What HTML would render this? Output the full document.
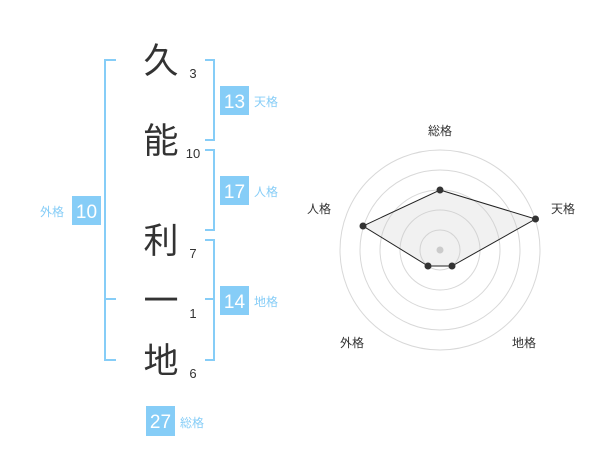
<!DOCTYPE html>
<html><head><meta charset="utf-8"><style>
body{margin:0;width:600px;height:470px;background:#fff;overflow:hidden;font-family:"Liberation Sans","Noto Sans CJK JP",sans-serif}
</style></head><body>
<svg width="600" height="470" xmlns="http://www.w3.org/2000/svg" font-family="Liberation Sans, Noto Sans CJK JP, sans-serif">
<g stroke="#86cdf7" stroke-width="2" fill="none">
<path d="M116,60H105V360H116M105,299H116"/>
<path d="M205,60H214V140H205"/>
<path d="M205,150H214V230H205"/>
<path d="M205,240H214V360H205M205,299H214"/>
</g>
<g font-size="35" fill="#333" text-anchor="middle" font-family="Noto Sans CJK JP, sans-serif">
<text x="161" y="73">久</text>
<text x="161" y="153">能</text>
<text x="161" y="253">利</text>
<text x="161" y="313">一</text>
<text x="161" y="373">地</text>
</g>
<g font-size="13" fill="#333" text-anchor="middle">
<text x="193" y="78">3</text>
<text x="193" y="158">10</text>
<text x="193" y="258">7</text>
<text x="193" y="318">1</text>
<text x="193" y="378">6</text>
</g>
<g fill="#86cdf7">
<rect x="220" y="86" width="29" height="29"/>
<rect x="220" y="176" width="29" height="29"/>
<rect x="220" y="286" width="29" height="29"/>
<rect x="72" y="196" width="29" height="29"/>
<rect x="146" y="406" width="29" height="30"/>
</g>
<g font-size="19" fill="#fff" text-anchor="middle">
<text x="234.5" y="108">13</text>
<text x="234.5" y="198">17</text>
<text x="234.5" y="308">14</text>
<text x="86.5" y="218">10</text>
<text x="160.5" y="428">27</text>
</g>
<g font-size="12" fill="#86cdf7">
<text x="254" y="106">天格</text>
<text x="254" y="196">人格</text>
<text x="254" y="306">地格</text>
<text x="40" y="216">外格</text>
<text x="180" y="427">総格</text>
</g>
<g fill="none" stroke="#d8d8d8" stroke-width="1">
<circle cx="440" cy="250" r="20"/><circle cx="440" cy="250" r="40"/><circle cx="440" cy="250" r="60"/><circle cx="440" cy="250" r="80"/><circle cx="440" cy="250" r="100"/>
</g>
<circle cx="440" cy="250" r="3.5" fill="#ccc"/>
<polygon points="440,190 535.5,219 452,266 428,266 363,226" fill="rgba(200,200,200,0.25)" stroke="#222" stroke-width="1"/>
<g fill="#333">
<circle cx="440" cy="190" r="3.5"/><circle cx="535.5" cy="219" r="3.5"/><circle cx="452" cy="266" r="3.5"/><circle cx="428" cy="266" r="3.5"/><circle cx="363" cy="226" r="3.5"/>
</g>
<g font-size="12" fill="#333" text-anchor="middle">
<text x="440" y="135">総格</text>
<text x="563" y="213">天格</text>
<text x="319" y="213">人格</text>
<text x="352" y="347">外格</text>
<text x="524" y="347">地格</text>
</g>
</svg>
</body></html>
